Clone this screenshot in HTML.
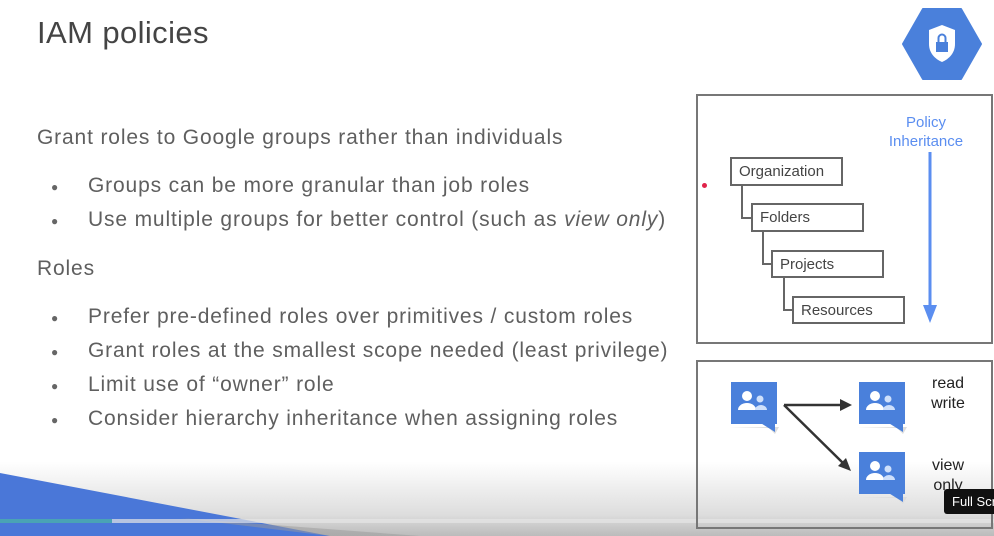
<!DOCTYPE html>
<html><head><meta charset="utf-8"><style>
body{margin:0;width:994px;height:536px;overflow:hidden;background:#fff;font-family:"Liberation Sans",sans-serif;position:relative}
.t{position:absolute;color:#5f5f5f;font-size:21px;letter-spacing:0.85px;white-space:nowrap}
.b{position:absolute;left:51px;font-size:12px;color:#666}
.box{position:absolute;border:2px solid #666;box-sizing:border-box;background:#fff;font-size:15px;color:#444;padding:4px 0 0 7px}
</style></head><body>
<div style="position:absolute;left:0;top:430px;width:994px;height:106px;background:linear-gradient(#fff,#fff 30%,#ddd 80%,#bbb)"></div>
<svg style="position:absolute;left:0;top:0" width="994" height="536"><polygon points="0,473 330,536 0,536" fill="#4a77d8"/><polygon points="180,518 330,536 420,536" fill="#999" opacity=".5"/></svg>
<div style="position:absolute;left:0;top:519px;width:994px;height:4px;background:rgba(230,230,230,.7)"><div style="width:112px;height:4px;background:#4aa3b5"></div></div>
<div class="t" style="left:37px;top:15px;font-size:31px;letter-spacing:0.4px;color:#444">IAM policies</div>
<div class="t" style="left:37px;top:126px">Grant roles to Google groups rather than individuals</div>
<div class="b" style="top:180px">●</div><div class="t" style="left:88px;top:174px">Groups can be more granular than job roles</div>
<div class="b" style="top:214px">●</div><div class="t" style="left:88px;top:208px">Use multiple groups for better control (such as <i>view only</i>)</div>
<div class="t" style="left:37px;top:257px">Roles</div>
<div class="b" style="top:311px">●</div><div class="t" style="left:88px;top:305px">Prefer pre-defined roles over primitives / custom roles</div>
<div class="b" style="top:345px">●</div><div class="t" style="left:88px;top:339px">Grant roles at the smallest scope needed (least privilege)</div>
<div class="b" style="top:379px">●</div><div class="t" style="left:88px;top:373px">Limit use of “owner” role</div>
<div class="b" style="top:413px">●</div><div class="t" style="left:88px;top:407px">Consider hierarchy inheritance when assigning roles</div>
<svg style="position:absolute;left:902px;top:8px" width="80" height="72"><polygon points="21,1 59,1 79,36 59,71 21,71 1,36" fill="#4a80db" stroke="#4a80db" stroke-width="2" stroke-linejoin="round"/><path d="M40 17 L53 22 V36 C53 45 47 51 40 54 C33 51 27 45 27 36 V22 Z" fill="#fff"/><rect x="34" y="34" width="12" height="10" fill="#4a80db"/><path d="M36.5 34 V30 a3.5 3.5 0 0 1 7 0 V34" stroke="#4a80db" stroke-width="2" fill="none"/></svg>
<div style="position:absolute;left:696px;top:94px;width:297px;height:250px;border:2px solid #777;box-sizing:border-box"></div>
<div style="position:absolute;left:702px;top:183px;width:5px;height:5px;border-radius:50%;background:#e0234a"></div>
<svg style="position:absolute;left:0;top:0" width="994" height="536"><path d="M742 185 V218 H751 M763 231 V264 H771 M784 277 V310 H792" stroke="#666" stroke-width="2" fill="none"/>
<line x1="930" y1="152" x2="930" y2="315" stroke="#5b8ef0" stroke-width="3"/><polygon points="923,305 937,305 930,323" fill="#5b8ef0"/></svg>
<div class="box" style="left:730px;top:157px;width:113px;height:29px">Organization</div>
<div class="box" style="left:751px;top:203px;width:113px;height:29px">Folders</div>
<div class="box" style="left:771px;top:250px;width:113px;height:28px">Projects</div>
<div class="box" style="left:792px;top:296px;width:113px;height:28px">Resources</div>
<div style="position:absolute;left:876px;top:113px;width:100px;text-align:center;color:#5b8ef0;font-size:15px;line-height:19px">Policy<br>Inheritance</div>
<div style="position:absolute;left:696px;top:360px;width:297px;height:169px;border:2px solid #777;box-sizing:border-box"></div>
<svg style="position:absolute;left:0;top:0" width="994" height="536">
<defs><g id="g"><polygon points="0,45 50,45 46,52 40,46" fill="#ddd"/><rect x="2" y="0" width="46" height="42" fill="#4a80db"/><polygon points="30,40 46,40 46,50" fill="#4a80db"/><circle cx="18" cy="14" r="5" fill="#fff"/><path d="M9 28 a9 7 0 0 1 18 0 Z" fill="#fff"/><circle cx="31" cy="17" r="3.5" fill="#cfe0fb"/><path d="M26 28 a6 5 0 0 1 12 0 Z" fill="#cfe0fb"/></g></defs>
<use href="#g" x="729" y="382"/><use href="#g" x="857" y="382"/><use href="#g" x="857" y="452"/>
<path d="M784 405 H848 M784 405 L845 465" stroke="#333" stroke-width="2.5" fill="none"/>
<polygon points="852,405 840,399 840,411" fill="#333"/><polygon points="851,471 838,466 846,458" fill="#333"/></svg>
<div style="position:absolute;left:920px;top:374px;width:56px;text-align:center;font-size:16px;line-height:20px;color:#222">read<br>write</div>
<div style="position:absolute;left:920px;top:456px;width:56px;text-align:center;font-size:16px;line-height:20px;color:#222">view<br>only</div>
<div style="position:absolute;left:944px;top:489px;width:60px;height:25px;background:#111;color:#fff;font-size:13px;line-height:25px;padding-left:8px;border-radius:3px;white-space:nowrap">Full Scr</div>
</body></html>
